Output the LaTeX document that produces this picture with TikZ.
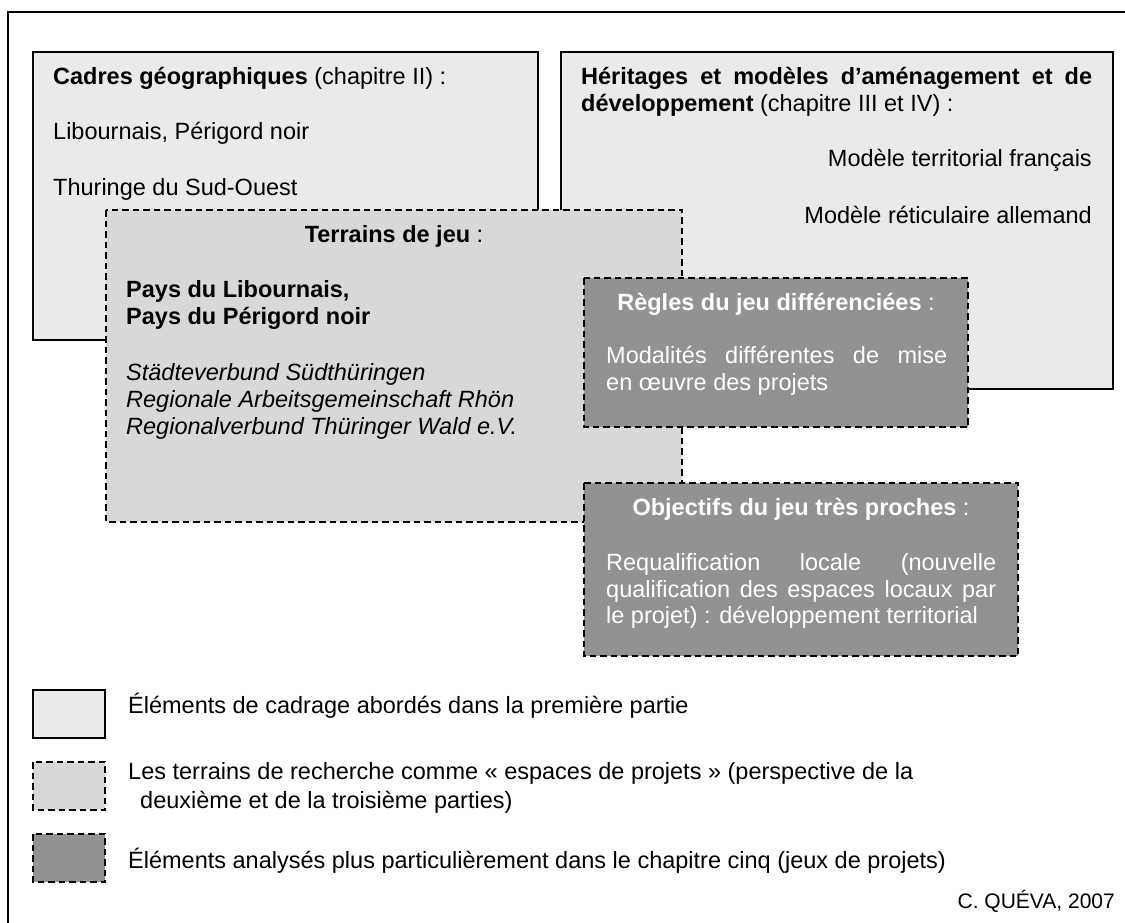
\documentclass[tikz,border=0pt]{standalone}
\usepackage{fontspec}
\setmainfont{Liberation Sans}
\definecolor{lightfill}{HTML}{EAEAEA}
\definecolor{midfill}{HTML}{D8D8D8}
\definecolor{darkfill}{HTML}{929292}
\begin{document}
\begin{tikzpicture}[x=1pt,y=-1pt,
  framebox/.style={draw=black, line width=1.3pt, fill=lightfill},
  terrbox/.style={draw=black, line width=1.3pt, dash pattern=on 6.5pt off 4pt, fill=midfill},
  gamebox/.style={draw=black, line width=1.3pt, dash pattern=on 6.5pt off 4pt, fill=darkfill},
  txt/.style={inner sep=0pt, anchor=base west, font=\fontsize{23.5pt}{27pt}\selectfont},
  wtxt/.style={txt, text=white}]
\useasboundingbox (0,0) rectangle (1125,923);
\draw[line width=1.3pt] (8,923) -- (8,12) -- (1125,12);
% boxes
\draw[framebox] (33,52) rectangle (538,340);
\draw[framebox] (561,52) rectangle (1113,389);
\draw[terrbox] (106,210) rectangle (682,522);
\draw[gamebox] (584,278) rectangle (968,427);
\draw[gamebox] (584,483) rectangle (1018,656);
% legend boxes
\draw[framebox] (33,690) rectangle (105,738);
\draw[terrbox] (33,762) rectangle (105,810);
\draw[gamebox] (33,834) rectangle (105,882);
% texts
\node[txt] (cad1) at (53,85) {\textbf{Cadres géographiques} (chapitre II) :};
\node[txt] (cad2) at (53,140) {Libournais, Périgord noir};
\node[txt] (cad3) at (53,195) {Thuringe du Sud-Ouest};
\node[txt] (her1) at (581,85) {\makebox[511pt][s]{\bfseries Héritages et modèles d’aménagement et de}};
\node[txt] (her2) at (581,112) {\textbf{développement} (chapitre III et IV) :};
\node[txt, anchor=base east] (her3) at (1092,167) {Modèle territorial français};
\node[txt, anchor=base east] (her4) at (1092,223) {Modèle réticulaire allemand};
\node[txt, anchor=base] (ter1) at (394,242) {\textbf{Terrains de jeu} :};
\node[txt] (ter2) at (126,297) {\bfseries Pays du Libournais,};
\node[txt] (ter3) at (126,324) {\bfseries Pays du Périgord noir};
\node[txt] (ter4) at (126,380) {\itshape Städteverbund Südthüringen};
\node[txt] (ter5) at (126,407) {\itshape Regionale Arbeitsgemeinschaft Rhön};
\node[txt] (ter6) at (126,434) {\itshape Regionalverbund Thüringer Wald e.V.};
\node[wtxt, anchor=base] (reg1) at (776,310) {\textbf{Règles du jeu différenciées} :};
\node[wtxt] (reg2) at (606,363) {\makebox[341pt][s]{Modalités différentes de mise}};
\node[wtxt] (reg3) at (606,390) {en œuvre des projets};
\node[wtxt, anchor=base] (obj1) at (801,515) {\textbf{Objectifs du jeu très proches} :};
\node[wtxt] (obj2) at (606,570) {\makebox[390pt][s]{Requalification locale (nouvelle}};
\node[wtxt] (obj3) at (606,597) {\makebox[390pt][s]{qualification des espaces locaux par}};
\node[wtxt] (obj4) at (606,623) {le projet) : développement territorial};
% legend texts
\node[txt] (leg1) at (128,713) {Éléments de cadrage abordés dans la première partie};
\node[txt] (leg2) at (128,779) {Les terrains de recherche comme « espaces de projets » (perspective de la};
\node[txt] (leg2b) at (140,808) {deuxième et de la troisième parties)};
\node[txt] (leg3) at (128,868) {Éléments analysés plus particulièrement dans le chapitre cinq (jeux de projets)};
\node[txt, anchor=base east, font=\fontsize{21pt}{24pt}\selectfont] (auth) at (1115,908) {C. QUÉVA, 2007};
\end{tikzpicture}
\end{document}
